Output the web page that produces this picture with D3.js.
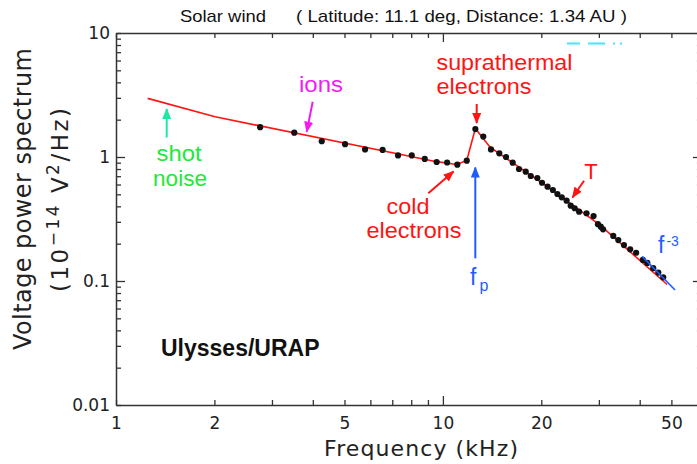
<!DOCTYPE html>
<html>
<head>
<meta charset="utf-8">
<script src="https://cdn.jsdelivr.net/npm/d3@7"></script>
<style>
body { margin: 0; background: #fff; }
svg { display: block; }
</style>
</head>
<body>
<svg id="chart" width="697" height="464"></svg>
<script>
const width = 697,
    height = 464

// measured spectrum (frequency in kHz, power in 1e-14 V^2/Hz)
const freqs = [2.76, 3.51, 4.26, 5.02, 5.78, 6.54, 7.29, 8.03, 8.80, 9.57, 10.3, 11.07, 11.83,
    12.57, 13.29, 14.03, 14.88, 15.6, 16.35, 17.09, 17.92, 18.57, 19.45, 20.1, 20.9, 21.7,
    22.4, 23.1, 23.9, 24.6, 25.3, 26.1, 27.5, 28.9, 29.8, 30.4, 30.9, 33.2, 34.4, 35.8,
    37.4, 39.0, 40.9, 42.2, 44.0, 45.6, 47.2]
const power = [1.74, 1.57, 1.34, 1.27, 1.15, 1.14, 1.03, 1.03, 0.964, 0.911, 0.903, 0.867, 0.934,
    1.68, 1.46, 1.15, 1.07, 1.0, 0.90, 0.80, 0.761, 0.703, 0.677, 0.62, 0.576, 0.542,
    0.503, 0.473, 0.444, 0.405, 0.386, 0.362, 0.352, 0.334, 0.287, 0.274, 0.261, 0.231, 0.214, 0.195,
    0.18, 0.169, 0.148, 0.14, 0.127, 0.117, 0.107]

// fitted model (red curve)
const fitFreqs = [1.25, 2.01, 9.57, 11.02, 11.83, 12.57, 13.94, 20.5, 30.2, 48.5]
const fitPower = [2.97, 2.11, 0.917, 0.87, 0.937, 1.70, 1.20, 0.595, 0.283, 0.0937]

// f^-3 guide (blue)
const slopeFreqs = [40.7, 51.3]
const slopePower = [0.158, 0.0846]

const xTicks = [1, 2, 3, 4, 5, 6, 7, 8, 9, 10, 20, 30, 40, 50]
const xLabels = [1, 2, 5, 10, 20, 50]
const yTicks = [0.01, 0.02, 0.03, 0.04, 0.05, 0.06, 0.07, 0.08, 0.09,
    0.1, 0.2, 0.3, 0.4, 0.5, 0.6, 0.7, 0.8, 0.9,
    1, 2, 3, 4, 5, 6, 7, 8, 9, 10]
const yLabels = [0.01, 0.1, 1, 10]

const red = "#ff1414"
const blue = "#1f5cff"
const axisFont = "'DejaVu Sans', Verdana, sans-serif"
const noteFont = "'Liberation Sans', Arial, Helvetica, sans-serif"

const svg = d3.select('#chart')

const x = d3.scaleLog()
    .domain([1, 62])
    .range([116, 116 + 326.9 * Math.log10(62)])
const y = d3.scaleLog()
    .domain([0.01, 10])
    .range([405, 33])

const isDecade = v => Math.abs(Math.log10(v) - Math.round(Math.log10(v))) < 1e-9

const fmt = v => v >= 1 ? String(v) : d3.format('.2~f')(v)

// axes, ticks point inward like the original plot
function styleAxis(g, labelled) {
    g.select('.domain').attr('stroke', '#333').attr('stroke-width', 1.5)
    g.selectAll('.tick line').attr('stroke', '#333').attr('stroke-width', 1.3)
    g.selectAll('.tick text')
        .attr('fill', '#222')
        .style('font-family', axisFont)
        .style('font-size', '17px')
    if (!labelled) g.selectAll('.tick text').remove()
}

const bottomAxis = svg.append('g')
    .attr('transform', `translate(0,${y(0.01)})`)
    .call(d3.axisBottom(x).tickValues(xTicks).tickSize(-5).tickSizeOuter(0).tickPadding(12)
        .tickFormat(d => xLabels.includes(d) ? fmt(d) : ''))
styleAxis(bottomAxis, true)
bottomAxis.selectAll('.tick line').filter(d => isDecade(d) && d > 1).attr('y2', -9)

const topAxis = svg.append('g')
    .attr('transform', `translate(0,${y(10)})`)
    .call(d3.axisTop(x).tickValues(xTicks).tickSize(-5).tickSizeOuter(0))
styleAxis(topAxis, false)
topAxis.selectAll('.tick line').filter(d => isDecade(d) && d > 1).attr('y2', 9)

const leftAxis = svg.append('g')
    .attr('transform', `translate(${x(1)},0)`)
    .call(d3.axisLeft(y).tickValues(yTicks).tickSize(-5).tickSizeOuter(0).tickPadding(6)
        .tickFormat(d => yLabels.includes(d) ? fmt(d) : ''))
styleAxis(leftAxis, true)
leftAxis.selectAll('.tick line').filter(d => isDecade(d) && d > 0.01 && d < 10).attr('x2', 9)

const rightAxis = svg.append('g')
    .attr('transform', `translate(${x(62)},0)`)
    .call(d3.axisRight(y).tickValues(yTicks).tickSize(-5).tickSizeOuter(0))
styleAxis(rightAxis, false)
rightAxis.selectAll('.tick line').filter(d => isDecade(d) && d > 0.01 && d < 10).attr('x2', -9)

// axis titles
svg.append('text')
    .attr('x', 421).attr('y', 456)
    .attr('text-anchor', 'middle')
    .attr('textLength', 194).attr('lengthAdjust', 'spacing')
    .style('font-family', axisFont).style('font-size', '22px').attr('fill', '#222')
    .text('Frequency (kHz)')

svg.append('text')
    .attr('transform', 'translate(31,199) rotate(-90)')
    .attr('text-anchor', 'middle')
    .attr('textLength', 302).attr('lengthAdjust', 'spacing')
    .style('font-family', axisFont).style('font-size', '24px').attr('fill', '#222')
    .text('Voltage power spectrum')

const yUnit = svg.append('text')
    .attr('transform', 'translate(68,200) rotate(-90)')
    .attr('text-anchor', 'middle')
    .attr('textLength', 184).attr('lengthAdjust', 'spacing')
    .style('font-family', axisFont).style('font-size', '23px').attr('fill', '#222')
yUnit.append('tspan').text('(10')
yUnit.append('tspan').attr('dy', -9).style('font-size', '17px').text('\u221214')
yUnit.append('tspan').attr('dy', 9).text(' V')
yUnit.append('tspan').attr('dy', -9).style('font-size', '17px').text('2')
yUnit.append('tspan').attr('dy', 9).text('/Hz)')

// title
svg.append('text')
    .attr('x', 180).attr('y', 22)
    .attr('textLength', 86).attr('lengthAdjust', 'spacingAndGlyphs')
    .style('font-family', noteFont).style('font-size', '17px').attr('fill', '#111')
    .text('Solar wind')
svg.append('text')
    .attr('x', 296).attr('y', 22)
    .attr('textLength', 331).attr('lengthAdjust', 'spacingAndGlyphs')
    .style('font-family', noteFont).style('font-size', '17px').attr('fill', '#111')
    .text('( Latitude: 11.1 deg, Distance: 1.34 AU )')

// faint cyan remnant near the top
svg.append('line')
    .attr('x1', 567).attr('x2', 627).attr('y1', 43.5).attr('y2', 43.5)
    .attr('stroke', '#3ee8ff').attr('stroke-width', 2)
    .attr('stroke-dasharray', '13,8,17,8,2,5,2')

// fitted curve
const line = d3.line()
    .x(i => x(fitFreqs[i]))
    .y(i => y(fitPower[i]))
svg.append('path')
    .attr('d', line(d3.range(fitFreqs.length)))
    .attr('fill', 'none')
    .attr('stroke', red)
    .attr('stroke-width', 1.6)

// measured points
svg.append('g')
    .selectAll('circle')
    .data(d3.range(freqs.length))
    .enter()
    .append('circle')
    .attr('cx', i => x(freqs[i]))
    .attr('cy', i => y(power[i]))
    .attr('r', 3.1)
    .attr('fill', '#111')

// f^-3 slope
svg.append('path')
    .attr('d', d3.line().x(i => x(slopeFreqs[i])).y(i => y(slopePower[i]))([0, 1]))
    .attr('fill', 'none')
    .attr('stroke', blue)
    .attr('stroke-width', 1.6)

// arrow heads
const arrowColors = { red: red, blue: blue, magenta: '#f01cf0', teal: '#1ee8a6' }
const defs = svg.append('defs')
Object.entries(arrowColors).forEach(([name, col]) => {
    defs.append('marker')
        .attr('id', 'head-' + name)
        .attr('markerUnits', 'userSpaceOnUse')
        .attr('markerWidth', 11).attr('markerHeight', 9)
        .attr('refX', 10).attr('refY', 4.5)
        .attr('orient', 'auto')
        .append('path')
        .attr('d', 'M0,0 L11,4.5 L0,9 Z')
        .attr('fill', col)
})

const arrows = [
    { from: [312.7, 101.7], to: [306.7, 131.7], c: 'magenta' },
    { from: [166.7, 137.5], to: [166.7, 109], c: 'teal' },
    { from: [476.7, 104], to: [476.7, 123], c: 'red' },
    { from: [428.3, 193.3], to: [453.5, 171.5], c: 'red' },
    { from: [475.3, 258.3], to: [475.3, 167.5], c: 'blue' },
    { from: [584, 180.7], to: [572.5, 197.5], c: 'red' }
]
svg.append('g')
    .selectAll('line')
    .data(arrows)
    .enter()
    .append('line')
    .attr('x1', d => d.from[0]).attr('y1', d => d.from[1])
    .attr('x2', d => d.to[0]).attr('y2', d => d.to[1])
    .attr('stroke', d => arrowColors[d.c])
    .attr('stroke-width', 2)
    .attr('marker-end', d => `url(#head-${d.c})`)

// labels (w = width of the word in the original)
const notes = [
    { t: 'ions', x: 321, y: 92, c: '#f01cf0', anchor: 'middle', w: 44 },
    { t: 'shot', x: 179, y: 161, c: '#22e83a', anchor: 'middle', w: 45 },
    { t: 'noise', x: 180, y: 185.6, c: '#22e83a', anchor: 'middle', w: 54 },
    { t: 'suprathermal', x: 436.5, y: 69.5, c: red, anchor: 'start', w: 136 },
    { t: 'electrons', x: 436.5, y: 94.2, c: red, anchor: 'start', w: 95 },
    { t: 'cold', x: 408, y: 213.5, c: red, anchor: 'middle', w: 43 },
    { t: 'electrons', x: 414, y: 238, c: red, anchor: 'middle', w: 95 },
    { t: 'T', x: 591, y: 179, c: red, anchor: 'middle', w: 0 }
]
svg.append('g')
    .selectAll('text')
    .data(notes)
    .enter()
    .append('text')
    .attr('x', d => d.x).attr('y', d => d.y)
    .attr('text-anchor', d => d.anchor)
    .attr('fill', d => d.c)
    .attr('textLength', d => d.w || null)
    .attr('lengthAdjust', 'spacingAndGlyphs')
    .style('font-family', noteFont)
    .style('font-size', '22px')
    .text(d => d.t)

const fp = svg.append('text')
    .attr('x', 470).attr('y', 285)
    .attr('fill', blue)
    .style('font-family', noteFont).style('font-size', '23px')
fp.append('tspan').text('f')
fp.append('tspan').attr('dx', 3).attr('dy', 6).style('font-size', '16px').text('p')

const fm3 = svg.append('text')
    .attr('x', 658).attr('y', 253)
    .attr('fill', blue)
    .style('font-family', noteFont).style('font-size', '23px')
fm3.append('tspan').text('f')
fm3.append('tspan').attr('dx', 2).attr('dy', -7).style('font-size', '14px').text('-3')

svg.append('text')
    .attr('x', 161).attr('y', 356)
    .attr('fill', '#111')
    .style('font-family', noteFont).style('font-size', '23px').style('font-weight', 'bold')
    .text('Ulysses/URAP')
</script>
</body>
</html>
